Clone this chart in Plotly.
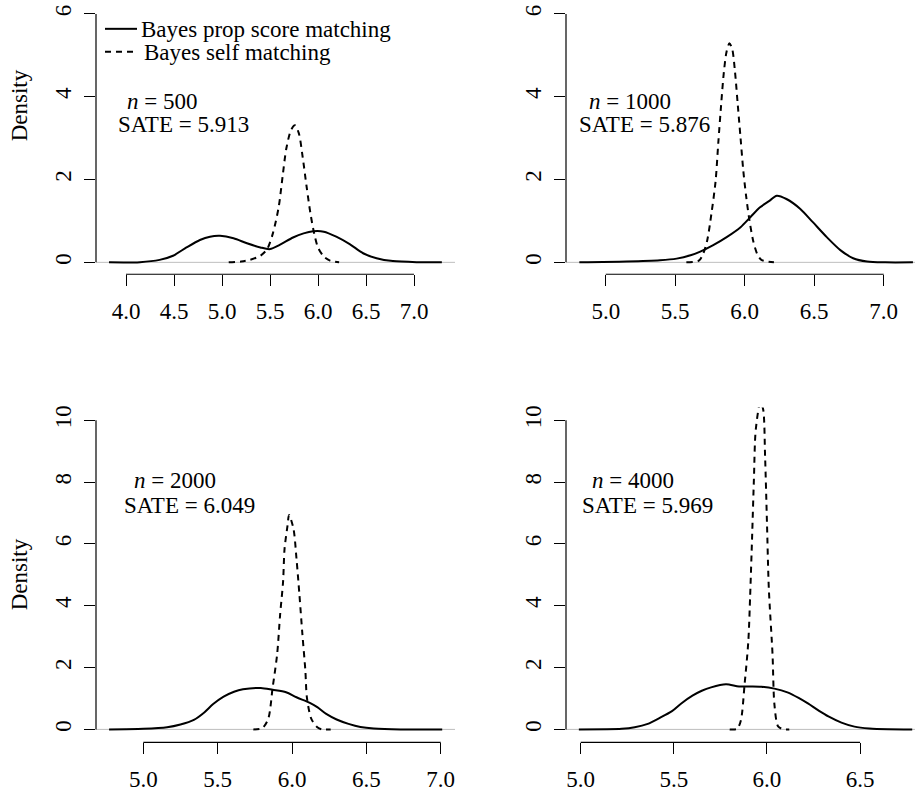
import plotly.graph_objects as go

W, H = 915, 792
FONT = "Liberation Serif, Times New Roman, Times, DejaVu Serif, serif"
FS = 23

# ---------------- data ----------------
# n = 500
p1_ps_x = [3.823, 4.146, 4.35, 4.49, 4.63, 4.77, 4.875, 4.98, 5.12, 5.26, 5.40, 5.50, 5.60, 5.74, 5.85, 5.95, 6.06, 6.19, 6.33, 6.47, 6.61, 6.78, 7.03, 7.29]
p1_ps_y = [0.0, 0.005, 0.06, 0.16, 0.36, 0.54, 0.62, 0.64, 0.58, 0.46, 0.36, 0.32, 0.42, 0.60, 0.70, 0.75, 0.74, 0.62, 0.44, 0.22, 0.10, 0.03, 0.003, 0.0]
p1_sm_x = [5.07, 5.20, 5.29, 5.40, 5.47, 5.53, 5.59, 5.63, 5.67, 5.72, 5.76, 5.80, 5.84, 5.88, 5.92, 5.96, 6.00, 6.06, 6.125, 6.22]
p1_sm_y = [0.0, 0.02, 0.06, 0.16, 0.32, 0.70, 1.33, 2.05, 2.75, 3.20, 3.31, 3.12, 2.55, 1.85, 1.20, 0.70, 0.36, 0.14, 0.04, 0.0]

# n = 1000
p2_ps_x = [4.81, 5.15, 5.39, 5.51, 5.61, 5.68, 5.77, 5.87, 5.97, 6.04, 6.11, 6.18, 6.23, 6.30, 6.40, 6.49, 6.59, 6.69, 6.78, 6.88, 7.01, 7.21]
p2_ps_y = [0.0, 0.02, 0.05, 0.09, 0.17, 0.26, 0.41, 0.61, 0.85, 1.09, 1.33, 1.49, 1.61, 1.53, 1.29, 0.97, 0.61, 0.29, 0.10, 0.02, 0.0, 0.0]
p2_sm_x = [5.58, 5.67, 5.70, 5.73, 5.76, 5.79, 5.81, 5.83, 5.85, 5.87, 5.89, 5.91, 5.93, 5.95, 5.97, 5.99, 6.01, 6.03, 6.06, 6.09, 6.12, 6.21]
p2_sm_y = [0.0, 0.04, 0.20, 0.53, 1.17, 1.95, 2.90, 3.80, 4.60, 5.10, 5.29, 5.15, 4.60, 3.80, 3.00, 2.20, 1.60, 1.10, 0.53, 0.20, 0.06, 0.0]

# n = 2000
p3_ps_x = [4.77, 5.00, 5.16, 5.25, 5.34, 5.41, 5.47, 5.54, 5.61, 5.67, 5.79, 5.87, 5.96, 6.03, 6.12, 6.17, 6.23, 6.30, 6.38, 6.46, 6.55, 6.73, 7.01]
p3_ps_y = [0.0, 0.02, 0.07, 0.16, 0.31, 0.55, 0.82, 1.06, 1.22, 1.30, 1.34, 1.28, 1.20, 1.04, 0.86, 0.72, 0.50, 0.32, 0.18, 0.08, 0.03, 0.0, 0.0]
p3_sm_x = [5.74, 5.80, 5.84, 5.87, 5.90, 5.92, 5.94, 5.95, 5.97, 5.98, 6.01, 6.03, 6.05, 6.07, 6.09, 6.10, 6.13, 6.17, 6.20, 6.26]
p3_sm_y = [0.0, 0.04, 0.34, 1.36, 2.43, 3.71, 4.78, 5.85, 6.60, 6.94, 6.49, 5.53, 4.35, 3.07, 1.89, 1.04, 0.34, 0.07, 0.0, 0.0]

# n = 4000
p4_ps_x = [4.99, 5.22, 5.29, 5.36, 5.42, 5.49, 5.54, 5.60, 5.65, 5.70, 5.78, 5.85, 5.92, 5.97, 6.04, 6.11, 6.17, 6.22, 6.28, 6.33, 6.40, 6.47, 6.55, 6.65, 6.78]
p4_ps_y = [0.0, 0.02, 0.07, 0.18, 0.36, 0.59, 0.84, 1.09, 1.25, 1.36, 1.46, 1.39, 1.39, 1.38, 1.32, 1.20, 1.02, 0.84, 0.60, 0.42, 0.22, 0.09, 0.03, 0.005, 0.0]
p4_sm_x = [5.80, 5.84, 5.86, 5.88, 5.90, 5.91, 5.92, 5.93, 5.94, 5.965, 5.98, 5.99, 6.00, 6.01, 6.03, 6.04, 6.06, 6.09, 6.12]
p4_sm_y = [0.0, 0.02, 0.29, 1.46, 2.85, 4.35, 6.17, 8.09, 9.70, 10.6, 10.34, 8.84, 6.71, 4.57, 2.43, 0.82, 0.10, 0.0, 0.0]

sizes = [500, 1000, 2000, 4000]
sates = ["5.913", "5.876", "6.049", "5.969"]
series_names = ["Bayes prop score matching", "Bayes self matching"]

x_ticks = [
    [4.0, 4.5, 5.0, 5.5, 6.0, 6.5, 7.0],
    [5.0, 5.5, 6.0, 6.5, 7.0],
    [5.0, 5.5, 6.0, 6.5, 7.0],
    [5.0, 5.5, 6.0, 6.5],
]
y_ticks_top = [0, 2, 4, 6]
y_ticks_bottom = [0, 2, 4, 6, 8, 10]

# ---------------- layout geometry ----------------
def fx(p):
    return p / W

def fy(p):
    return 1 - p / H

panels = [
    dict(ps=(p1_ps_x, p1_ps_y), sm=(p1_sm_x, p1_sm_y), xdom=(96, 455), ydom=(2, 274),
         xr=[3.6875, 7.427], yr=[-0.288, 6.24], yt=y_ticks_top, lab=(125, 100, 116, 123), dens=104),
    dict(ps=(p2_ps_x, p2_ps_y), sm=(p2_sm_x, p2_sm_y), xdom=(566, 915), ydom=(2, 274),
         xr=[4.714, 7.225], yr=[-0.288, 6.24], yt=y_ticks_top, lab=(587, 100, 577, 123), dens=None),
    dict(ps=(p3_ps_x, p3_ps_y), sm=(p3_sm_x, p3_sm_y), xdom=(96, 455), ydom=(408, 745),
         xr=[4.682, 7.096], yr=[-0.417, 10.417], yt=y_ticks_bottom, lab=(132, 482, 122, 507), dens=576),
    dict(ps=(p4_ps_x, p4_ps_y), sm=(p4_sm_x, p4_sm_y), xdom=(566, 915), ydom=(408, 745),
         xr=[4.921, 6.795], yr=[-0.417, 10.417], yt=y_ticks_bottom, lab=(590, 482, 580, 507), dens=None),
]

txtfont = dict(family=FONT, size=FS, color="black")
fig = go.Figure()
shapes = []
annotations = []

for i, p in enumerate(panels):
    k = "" if i == 0 else str(i + 1)
    xa, ya = "x" + k, "y" + k
    fig.add_trace(go.Scatter(x=p["ps"][0], y=p["ps"][1], mode="lines", name=series_names[0],
                             line=dict(color="black", width=2, shape="spline", smoothing=0.8),
                             xaxis=xa, yaxis=ya, showlegend=False, hoverinfo="skip"))
    fig.add_trace(go.Scatter(x=p["sm"][0], y=p["sm"][1], mode="lines", name=series_names[1],
                             line=dict(color="black", width=2, dash="6px,5px", shape="spline", smoothing=0.8),
                             xaxis=xa, yaxis=ya, showlegend=False, hoverinfo="skip"))

    axis_common = dict(showgrid=False, zeroline=False, showline=False, ticks="outside",
                       ticklen=11, tickwidth=1.2, tickcolor="black", tickfont=txtfont)
    fig.update_layout(**{
        "xaxis" + k: dict(domain=[fx(p["xdom"][0]), fx(p["xdom"][1])], range=p["xr"],
                          anchor=ya, tickvals=x_ticks[i], ticktext=["%.1f" % v for v in x_ticks[i]],
                          ticklabelstandoff=5, **axis_common),
        "yaxis" + k: dict(domain=[fy(p["ydom"][1]), fy(p["ydom"][0])], range=p["yr"],
                          anchor=xa, tickvals=p["yt"], tickangle=-90,
                          ticklabelstandoff=4, **axis_common),
    })

    # R-style axis lines spanning first to last tick
    shapes.append(dict(type="line", xref=xa, yref=ya + " domain", x0=x_ticks[i][0], x1=x_ticks[i][-1],
                       y0=0, y1=0, line=dict(color="black", width=1.2)))
    shapes.append(dict(type="line", xref=xa + " domain", yref=ya, x0=0, x1=0,
                       y0=p["yt"][0], y1=p["yt"][-1], line=dict(color="black", width=1.2)))
    # gray zero line
    shapes.append(dict(type="line", xref=xa + " domain", yref=ya, x0=0, x1=1, y0=0, y1=0,
                       layer="below", line=dict(color="#bebebe", width=1)))

    lx1, ly1, lx2, ly2 = p["lab"]
    annotations.append(dict(xref="paper", yref="paper", x=fx(lx1), y=fy(ly1), xanchor="left", yanchor="middle",
                            text="<i>n</i> = %d" % sizes[i], showarrow=False, font=txtfont))
    annotations.append(dict(xref="paper", yref="paper", x=fx(lx2), y=fy(ly2), xanchor="left", yanchor="middle",
                            text="SATE = %s" % sates[i], showarrow=False, font=txtfont))
    if p["dens"] is not None:
        annotations.append(dict(xref="paper", yref="paper", x=fx(19), y=fy(p["dens"]), xanchor="center",
                                yanchor="middle", text="Density", textangle=-90, showarrow=False, font=txtfont))

# R-style legend (top-left of first panel)
legend_rows = [(series_names[0], "solid", 27, 139), (series_names[1], "6px,5px", 50, 142)]
for name, dash, yy, tx in legend_rows:
    shapes.append(dict(type="line", xref="paper", yref="paper", x0=fx(105), x1=fx(137), y0=fy(yy), y1=fy(yy),
                       line=dict(color="black", width=2, dash=dash)))
    annotations.append(dict(xref="paper", yref="paper", x=fx(tx), y=fy(yy + 1), xanchor="left", yanchor="middle",
                            text=name, showarrow=False, font=txtfont))

fig.update_layout(
    width=W, height=H, margin=dict(l=0, r=0, t=0, b=0),
    paper_bgcolor="white", plot_bgcolor="white",
    shapes=shapes, annotations=annotations, showlegend=False,
)

fig.write_html("out.html")
